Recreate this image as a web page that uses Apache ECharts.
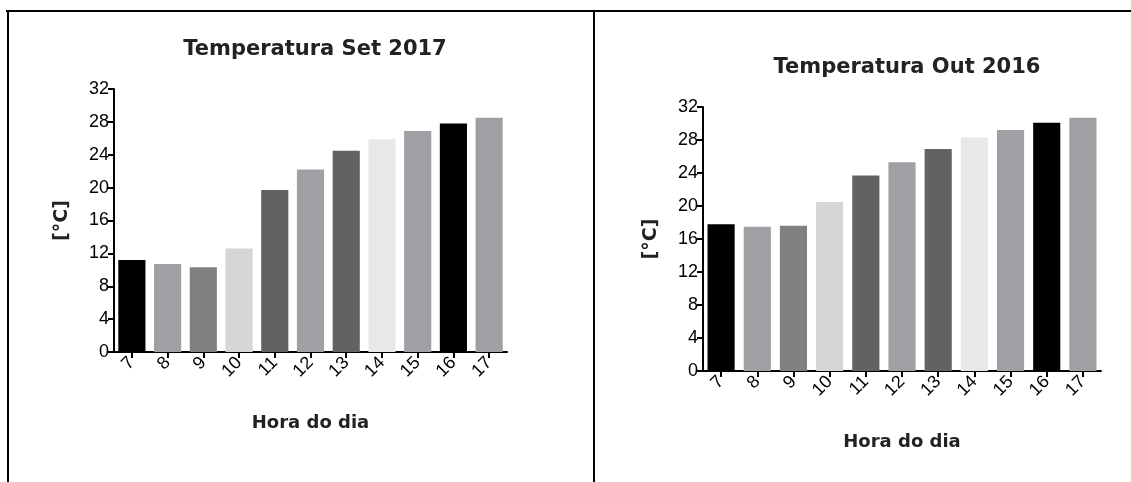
<!DOCTYPE html>
<html>
<head>
<meta charset="utf-8">
<script src="https://cdn.jsdelivr.net/npm/echarts@6/dist/echarts.min.js"></script>
<style>html,body{margin:0;padding:0;background:#fff}#c{width:1131px;height:482px}</style>
</head>
<body>
<div id="c"></div>
<script>
var hours = ['7','8','9','10','11','12','13','14','15','16','17'];
var yTicks = [0, 4, 8, 12, 16, 20, 24, 28, 32];
var tempSet2017 = [11.2, 10.7, 10.3, 12.6, 19.7, 22.2, 24.5, 25.9, 26.9, 27.8, 28.5];
var tempOut2016 = [17.8, 17.5, 17.6, 20.5, 23.7, 25.3, 26.9, 28.3, 29.2, 30.1, 30.7];
var barColors = ['#000000','#a0a0a4','#808080','#d6d6d6','#626262','#a0a0a4','#626262','#e8e8e8','#a0a0a4','#000000','#a0a0a4'];

var chart = echarts.init(document.getElementById('c'), null, {renderer: 'canvas'});
var axisFont = 'Liberation Sans, Arial, sans-serif';
var boldFont = 'DejaVu Sans, sans-serif';

function makeData(vals) {
  return vals.map(function (v, i) {
    return {value: v, itemStyle: {color: barColors[i]}};
  });
}
function xAx(gi) {
  return {
    type: 'category', gridIndex: gi, data: hours,
    axisLine: {lineStyle: {color: '#000', width: 2}},
    axisTick: {show: true, alignWithLabel: true, length: 6, lineStyle: {color: '#000', width: 2}},
    axisLabel: {rotate: 45, margin: 8, color: '#000', fontSize: 18, fontFamily: axisFont},
    name: 'Hora do dia', nameLocation: 'middle', nameGap: 62,
    nameTextStyle: {fontSize: 18, fontWeight: 'bold', color: '#222', fontFamily: boldFont}
  };
}
function yAx(gi) {
  return {
    type: 'value', gridIndex: gi, min: 0, max: 32, interval: 4,
    splitLine: {show: false},
    axisLine: {show: true, lineStyle: {color: '#000', width: 2}},
    axisTick: {show: true, length: 6, lineStyle: {color: '#000', width: 2}},
    axisLabel: {margin: 5, color: '#000', fontSize: 18, fontFamily: axisFont,
      formatter: function (v) { return yTicks.indexOf(v) >= 0 ? String(v) : ''; }},
    name: '[°C]', nameLocation: 'middle', nameGap: 42, nameRotate: 90,
    nameTextStyle: {fontSize: 19, fontWeight: 'bold', color: '#222', fontFamily: boldFont}
  };
}

chart.setOption({
  animation: false,
  backgroundColor: '#fff',
  title: [
    {text: 'Temperatura Set 2017', left: 310, top: 34, textAlign: 'center',
      textStyle: {fontSize: 21, fontWeight: 'bold', color: '#222', fontFamily: boldFont}},
    {text: 'Temperatura Out 2016', left: 902, top: 52, textAlign: 'center',
      textStyle: {fontSize: 21, fontWeight: 'bold', color: '#222', fontFamily: boldFont}}
  ],
  grid: [
    {left: 114, right: 624, top: 89, bottom: 130, containLabel: false},
    {left: 703, right: 30, top: 107, bottom: 111, containLabel: false}
  ],
  xAxis: [xAx(0), xAx(1)],
  yAxis: [yAx(0), yAx(1)],
  series: [
    {type: 'bar', xAxisIndex: 0, yAxisIndex: 0, barCategoryGap: '24%', data: makeData(tempSet2017)},
    {type: 'bar', xAxisIndex: 1, yAxisIndex: 1, barCategoryGap: '25%', data: makeData(tempOut2016)}
  ],
  graphic: [
    {type: 'line', shape: {x1: 6, y1: 11, x2: 1131, y2: 11}, style: {stroke: '#000', lineWidth: 2}},
    {type: 'line', shape: {x1: 8, y1: 10, x2: 8, y2: 482}, style: {stroke: '#000', lineWidth: 2}},
    {type: 'line', shape: {x1: 594, y1: 10, x2: 594, y2: 482}, style: {stroke: '#000', lineWidth: 2}}
  ]
});
</script>
</body>
</html>
